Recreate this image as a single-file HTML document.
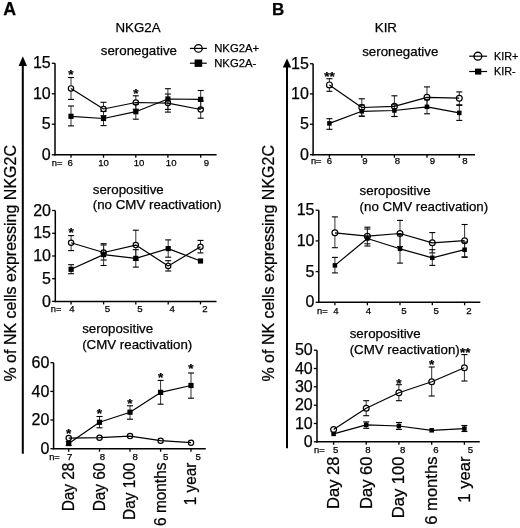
<!DOCTYPE html>
<html><head><meta charset="utf-8"><style>
html,body{margin:0;padding:0;background:#fff;}
svg{display:block;filter:grayscale(100%);}
text{font-family:"Liberation Sans", sans-serif;fill:#000;stroke:#000;stroke-width:0.25px;}
</style></head><body>
<svg width="520" height="528" viewBox="0 0 520 528">
<rect width="520" height="528" fill="#fff"/>
<line x1="55.00" y1="63.30" x2="55.00" y2="155.55" stroke="#000" stroke-width="1.5"/>
<line x1="54.25" y1="154.80" x2="216.60" y2="154.80" stroke="#000" stroke-width="1.5"/>
<line x1="51.80" y1="63.30" x2="55.00" y2="63.30" stroke="#000" stroke-width="1.3"/>
<text x="50.70" y="68.40" font-size="16" text-anchor="end">15</text>
<line x1="51.80" y1="93.80" x2="55.00" y2="93.80" stroke="#000" stroke-width="1.3"/>
<text x="50.70" y="98.90" font-size="16" text-anchor="end">10</text>
<line x1="51.80" y1="124.20" x2="55.00" y2="124.20" stroke="#000" stroke-width="1.3"/>
<text x="50.70" y="129.30" font-size="16" text-anchor="end">5</text>
<line x1="51.80" y1="154.80" x2="55.00" y2="154.80" stroke="#000" stroke-width="1.3"/>
<text x="50.70" y="159.90" font-size="16" text-anchor="end">0</text>
<line x1="71.00" y1="154.80" x2="71.00" y2="157.80" stroke="#000" stroke-width="1.3"/>
<line x1="103.50" y1="154.80" x2="103.50" y2="157.80" stroke="#000" stroke-width="1.3"/>
<line x1="135.80" y1="154.80" x2="135.80" y2="157.80" stroke="#000" stroke-width="1.3"/>
<line x1="167.90" y1="154.80" x2="167.90" y2="157.80" stroke="#000" stroke-width="1.3"/>
<line x1="200.70" y1="154.80" x2="200.70" y2="157.80" stroke="#000" stroke-width="1.3"/>
<line x1="71.00" y1="77.50" x2="71.00" y2="85.75" stroke="#333" stroke-width="1.0"/>
<line x1="71.00" y1="91.05" x2="71.00" y2="99.40" stroke="#333" stroke-width="1.0"/>
<line x1="68.00" y1="77.50" x2="74.00" y2="77.50" stroke="#000" stroke-width="1.1"/>
<line x1="68.00" y1="99.40" x2="74.00" y2="99.40" stroke="#000" stroke-width="1.1"/>
<line x1="71.00" y1="106.00" x2="71.00" y2="125.90" stroke="#333" stroke-width="1.0"/>
<line x1="68.00" y1="106.00" x2="74.00" y2="106.00" stroke="#000" stroke-width="1.1"/>
<line x1="68.00" y1="125.90" x2="74.00" y2="125.90" stroke="#000" stroke-width="1.1"/>
<line x1="103.50" y1="102.30" x2="103.50" y2="106.35" stroke="#333" stroke-width="1.0"/>
<line x1="103.50" y1="111.65" x2="103.50" y2="115.70" stroke="#333" stroke-width="1.0"/>
<line x1="100.50" y1="102.30" x2="106.50" y2="102.30" stroke="#000" stroke-width="1.1"/>
<line x1="100.50" y1="115.70" x2="106.50" y2="115.70" stroke="#000" stroke-width="1.1"/>
<line x1="103.50" y1="111.50" x2="103.50" y2="125.60" stroke="#333" stroke-width="1.0"/>
<line x1="100.50" y1="111.50" x2="106.50" y2="111.50" stroke="#000" stroke-width="1.1"/>
<line x1="100.50" y1="125.60" x2="106.50" y2="125.60" stroke="#000" stroke-width="1.1"/>
<line x1="135.80" y1="95.80" x2="135.80" y2="99.85" stroke="#333" stroke-width="1.0"/>
<line x1="135.80" y1="105.15" x2="135.80" y2="109.20" stroke="#333" stroke-width="1.0"/>
<line x1="132.80" y1="95.80" x2="138.80" y2="95.80" stroke="#000" stroke-width="1.1"/>
<line x1="132.80" y1="109.20" x2="138.80" y2="109.20" stroke="#000" stroke-width="1.1"/>
<line x1="135.80" y1="104.30" x2="135.80" y2="119.20" stroke="#333" stroke-width="1.0"/>
<line x1="132.80" y1="104.30" x2="138.80" y2="104.30" stroke="#000" stroke-width="1.1"/>
<line x1="132.80" y1="119.20" x2="138.80" y2="119.20" stroke="#000" stroke-width="1.1"/>
<line x1="167.90" y1="94.00" x2="167.90" y2="100.45" stroke="#333" stroke-width="1.0"/>
<line x1="167.90" y1="105.75" x2="167.90" y2="112.10" stroke="#333" stroke-width="1.0"/>
<line x1="164.90" y1="94.00" x2="170.90" y2="94.00" stroke="#000" stroke-width="1.1"/>
<line x1="164.90" y1="112.10" x2="170.90" y2="112.10" stroke="#000" stroke-width="1.1"/>
<line x1="167.90" y1="88.70" x2="167.90" y2="109.40" stroke="#333" stroke-width="1.0"/>
<line x1="164.90" y1="88.70" x2="170.90" y2="88.70" stroke="#000" stroke-width="1.1"/>
<line x1="164.90" y1="109.40" x2="170.90" y2="109.40" stroke="#000" stroke-width="1.1"/>
<line x1="200.70" y1="100.80" x2="200.70" y2="106.85" stroke="#333" stroke-width="1.0"/>
<line x1="200.70" y1="112.15" x2="200.70" y2="118.20" stroke="#333" stroke-width="1.0"/>
<line x1="197.70" y1="100.80" x2="203.70" y2="100.80" stroke="#000" stroke-width="1.1"/>
<line x1="197.70" y1="118.20" x2="203.70" y2="118.20" stroke="#000" stroke-width="1.1"/>
<line x1="200.70" y1="90.50" x2="200.70" y2="108.30" stroke="#333" stroke-width="1.0"/>
<line x1="197.70" y1="90.50" x2="203.70" y2="90.50" stroke="#000" stroke-width="1.1"/>
<line x1="197.70" y1="108.30" x2="203.70" y2="108.30" stroke="#000" stroke-width="1.1"/>
<polyline points="71.0,88.4 103.5,109.0 135.8,102.5 167.9,103.1 200.7,109.5" fill="none" stroke="#000" stroke-width="1.2" stroke-linejoin="round"/>
<polyline points="71.0,116.3 103.5,118.5 135.8,111.7 167.9,99.0 200.7,99.4" fill="none" stroke="#000" stroke-width="1.2" stroke-linejoin="round"/>
<rect x="68.40" y="113.70" width="5.2" height="5.2" fill="#000"/>
<rect x="100.90" y="115.90" width="5.2" height="5.2" fill="#000"/>
<rect x="133.20" y="109.10" width="5.2" height="5.2" fill="#000"/>
<rect x="165.30" y="96.40" width="5.2" height="5.2" fill="#000"/>
<rect x="198.10" y="96.80" width="5.2" height="5.2" fill="#000"/>
<circle cx="71.0" cy="88.4" r="2.65" fill="none" stroke="#000" stroke-width="1.2"/>
<circle cx="103.5" cy="109.0" r="2.65" fill="none" stroke="#000" stroke-width="1.2"/>
<circle cx="135.8" cy="102.5" r="2.65" fill="none" stroke="#000" stroke-width="1.2"/>
<circle cx="167.9" cy="103.1" r="2.65" fill="none" stroke="#000" stroke-width="1.2"/>
<circle cx="200.7" cy="109.5" r="2.65" fill="none" stroke="#000" stroke-width="1.2"/>
<text x="71.00" y="79.30" font-size="13.5" text-anchor="middle" font-weight="bold">*</text>
<text x="135.80" y="98.40" font-size="13.5" text-anchor="middle" font-weight="bold">*</text>
<text x="51.80" y="165.70" font-size="9.3" text-anchor="start">n=</text>
<text x="70.20" y="165.70" font-size="9.6" text-anchor="middle">6</text>
<text x="103.60" y="165.70" font-size="9.6" text-anchor="middle">10</text>
<text x="139.00" y="165.70" font-size="9.6" text-anchor="middle">10</text>
<text x="171.20" y="165.70" font-size="9.6" text-anchor="middle">10</text>
<text x="206.50" y="165.70" font-size="9.6" text-anchor="middle">9</text>
<line x1="55.30" y1="210.50" x2="55.30" y2="302.15" stroke="#000" stroke-width="1.5"/>
<line x1="54.55" y1="301.40" x2="216.50" y2="301.40" stroke="#000" stroke-width="1.5"/>
<line x1="52.10" y1="210.50" x2="55.30" y2="210.50" stroke="#000" stroke-width="1.3"/>
<text x="51.00" y="215.60" font-size="16" text-anchor="end">20</text>
<line x1="52.10" y1="233.30" x2="55.30" y2="233.30" stroke="#000" stroke-width="1.3"/>
<text x="51.00" y="238.40" font-size="16" text-anchor="end">15</text>
<line x1="52.10" y1="256.00" x2="55.30" y2="256.00" stroke="#000" stroke-width="1.3"/>
<text x="51.00" y="261.10" font-size="16" text-anchor="end">10</text>
<line x1="52.10" y1="278.70" x2="55.30" y2="278.70" stroke="#000" stroke-width="1.3"/>
<text x="51.00" y="283.80" font-size="16" text-anchor="end">5</text>
<line x1="52.10" y1="301.40" x2="55.30" y2="301.40" stroke="#000" stroke-width="1.3"/>
<text x="51.00" y="306.50" font-size="16" text-anchor="end">0</text>
<line x1="71.10" y1="301.40" x2="71.10" y2="304.40" stroke="#000" stroke-width="1.3"/>
<line x1="103.60" y1="301.40" x2="103.60" y2="304.40" stroke="#000" stroke-width="1.3"/>
<line x1="135.80" y1="301.40" x2="135.80" y2="304.40" stroke="#000" stroke-width="1.3"/>
<line x1="168.20" y1="301.40" x2="168.20" y2="304.40" stroke="#000" stroke-width="1.3"/>
<line x1="200.50" y1="301.40" x2="200.50" y2="304.40" stroke="#000" stroke-width="1.3"/>
<line x1="71.10" y1="235.60" x2="71.10" y2="240.15" stroke="#333" stroke-width="1.0"/>
<line x1="71.10" y1="245.45" x2="71.10" y2="250.60" stroke="#333" stroke-width="1.0"/>
<line x1="68.10" y1="235.60" x2="74.10" y2="235.60" stroke="#000" stroke-width="1.1"/>
<line x1="68.10" y1="250.60" x2="74.10" y2="250.60" stroke="#000" stroke-width="1.1"/>
<line x1="71.10" y1="264.70" x2="71.10" y2="273.70" stroke="#333" stroke-width="1.0"/>
<line x1="68.10" y1="264.70" x2="74.10" y2="264.70" stroke="#000" stroke-width="1.1"/>
<line x1="68.10" y1="273.70" x2="74.10" y2="273.70" stroke="#000" stroke-width="1.1"/>
<line x1="103.60" y1="245.00" x2="103.60" y2="249.85" stroke="#333" stroke-width="1.0"/>
<line x1="103.60" y1="255.15" x2="103.60" y2="260.00" stroke="#333" stroke-width="1.0"/>
<line x1="100.60" y1="245.00" x2="106.60" y2="245.00" stroke="#000" stroke-width="1.1"/>
<line x1="100.60" y1="260.00" x2="106.60" y2="260.00" stroke="#000" stroke-width="1.1"/>
<line x1="103.60" y1="243.70" x2="103.60" y2="265.50" stroke="#333" stroke-width="1.0"/>
<line x1="100.60" y1="243.70" x2="106.60" y2="243.70" stroke="#000" stroke-width="1.1"/>
<line x1="100.60" y1="265.50" x2="106.60" y2="265.50" stroke="#000" stroke-width="1.1"/>
<line x1="135.80" y1="230.20" x2="135.80" y2="242.45" stroke="#333" stroke-width="1.0"/>
<line x1="135.80" y1="247.75" x2="135.80" y2="260.00" stroke="#333" stroke-width="1.0"/>
<line x1="132.80" y1="230.20" x2="138.80" y2="230.20" stroke="#000" stroke-width="1.1"/>
<line x1="132.80" y1="260.00" x2="138.80" y2="260.00" stroke="#000" stroke-width="1.1"/>
<line x1="135.80" y1="249.70" x2="135.80" y2="267.10" stroke="#333" stroke-width="1.0"/>
<line x1="132.80" y1="249.70" x2="138.80" y2="249.70" stroke="#000" stroke-width="1.1"/>
<line x1="132.80" y1="267.10" x2="138.80" y2="267.10" stroke="#000" stroke-width="1.1"/>
<line x1="168.20" y1="260.70" x2="168.20" y2="263.25" stroke="#333" stroke-width="1.0"/>
<line x1="168.20" y1="268.55" x2="168.20" y2="271.00" stroke="#333" stroke-width="1.0"/>
<line x1="165.20" y1="260.70" x2="171.20" y2="260.70" stroke="#000" stroke-width="1.1"/>
<line x1="165.20" y1="271.00" x2="171.20" y2="271.00" stroke="#000" stroke-width="1.1"/>
<line x1="168.20" y1="239.90" x2="168.20" y2="257.20" stroke="#333" stroke-width="1.0"/>
<line x1="165.20" y1="239.90" x2="171.20" y2="239.90" stroke="#000" stroke-width="1.1"/>
<line x1="165.20" y1="257.20" x2="171.20" y2="257.20" stroke="#000" stroke-width="1.1"/>
<line x1="200.50" y1="240.40" x2="200.50" y2="244.15" stroke="#333" stroke-width="1.0"/>
<line x1="200.50" y1="249.45" x2="200.50" y2="252.90" stroke="#333" stroke-width="1.0"/>
<line x1="197.50" y1="240.40" x2="203.50" y2="240.40" stroke="#000" stroke-width="1.1"/>
<line x1="197.50" y1="252.90" x2="203.50" y2="252.90" stroke="#000" stroke-width="1.1"/>
<polyline points="71.1,242.8 103.6,252.5 135.8,245.1 168.2,265.9 200.5,246.8" fill="none" stroke="#000" stroke-width="1.2" stroke-linejoin="round"/>
<polyline points="71.1,269.3 103.6,254.6 135.8,258.4 168.2,248.6 200.5,261.0" fill="none" stroke="#000" stroke-width="1.2" stroke-linejoin="round"/>
<rect x="68.50" y="266.70" width="5.2" height="5.2" fill="#000"/>
<rect x="101.00" y="252.00" width="5.2" height="5.2" fill="#000"/>
<rect x="133.20" y="255.80" width="5.2" height="5.2" fill="#000"/>
<rect x="165.60" y="246.00" width="5.2" height="5.2" fill="#000"/>
<rect x="197.90" y="258.40" width="5.2" height="5.2" fill="#000"/>
<circle cx="71.1" cy="242.8" r="2.65" fill="none" stroke="#000" stroke-width="1.2"/>
<circle cx="103.6" cy="252.5" r="2.65" fill="none" stroke="#000" stroke-width="1.2"/>
<circle cx="135.8" cy="245.1" r="2.65" fill="none" stroke="#000" stroke-width="1.2"/>
<circle cx="168.2" cy="265.9" r="2.65" fill="none" stroke="#000" stroke-width="1.2"/>
<circle cx="200.5" cy="246.8" r="2.65" fill="none" stroke="#000" stroke-width="1.2"/>
<text x="71.10" y="236.70" font-size="13.5" text-anchor="middle" font-weight="bold">*</text>
<text x="50.80" y="311.90" font-size="9.3" text-anchor="start">n=</text>
<text x="71.90" y="311.90" font-size="9.6" text-anchor="middle">4</text>
<text x="107.50" y="311.90" font-size="9.6" text-anchor="middle">5</text>
<text x="139.90" y="311.90" font-size="9.6" text-anchor="middle">5</text>
<text x="172.10" y="311.90" font-size="9.6" text-anchor="middle">4</text>
<text x="205.00" y="311.90" font-size="9.6" text-anchor="middle">2</text>
<line x1="53.60" y1="362.70" x2="53.60" y2="449.45" stroke="#000" stroke-width="1.5"/>
<line x1="52.85" y1="448.70" x2="205.80" y2="448.70" stroke="#000" stroke-width="1.5"/>
<line x1="50.40" y1="362.70" x2="53.60" y2="362.70" stroke="#000" stroke-width="1.3"/>
<text x="49.30" y="367.80" font-size="16" text-anchor="end">60</text>
<line x1="50.40" y1="391.40" x2="53.60" y2="391.40" stroke="#000" stroke-width="1.3"/>
<text x="49.30" y="396.50" font-size="16" text-anchor="end">40</text>
<line x1="50.40" y1="420.00" x2="53.60" y2="420.00" stroke="#000" stroke-width="1.3"/>
<text x="49.30" y="425.10" font-size="16" text-anchor="end">20</text>
<line x1="50.40" y1="448.70" x2="53.60" y2="448.70" stroke="#000" stroke-width="1.3"/>
<text x="49.30" y="453.80" font-size="16" text-anchor="end">0</text>
<line x1="68.70" y1="448.70" x2="68.70" y2="451.70" stroke="#000" stroke-width="1.3"/>
<line x1="99.50" y1="448.70" x2="99.50" y2="451.70" stroke="#000" stroke-width="1.3"/>
<line x1="130.00" y1="448.70" x2="130.00" y2="451.70" stroke="#000" stroke-width="1.3"/>
<line x1="160.60" y1="448.70" x2="160.60" y2="451.70" stroke="#000" stroke-width="1.3"/>
<line x1="191.00" y1="448.70" x2="191.00" y2="451.70" stroke="#000" stroke-width="1.3"/>
<line x1="68.70" y1="441.50" x2="68.70" y2="445.50" stroke="#333" stroke-width="1.0"/>
<line x1="65.70" y1="441.50" x2="71.70" y2="441.50" stroke="#000" stroke-width="1.1"/>
<line x1="65.70" y1="445.50" x2="71.70" y2="445.50" stroke="#000" stroke-width="1.1"/>
<line x1="99.50" y1="416.50" x2="99.50" y2="427.80" stroke="#333" stroke-width="1.0"/>
<line x1="96.50" y1="416.50" x2="102.50" y2="416.50" stroke="#000" stroke-width="1.1"/>
<line x1="96.50" y1="427.80" x2="102.50" y2="427.80" stroke="#000" stroke-width="1.1"/>
<line x1="130.00" y1="405.80" x2="130.00" y2="419.20" stroke="#333" stroke-width="1.0"/>
<line x1="127.00" y1="405.80" x2="133.00" y2="405.80" stroke="#000" stroke-width="1.1"/>
<line x1="127.00" y1="419.20" x2="133.00" y2="419.20" stroke="#000" stroke-width="1.1"/>
<line x1="160.60" y1="380.40" x2="160.60" y2="404.20" stroke="#333" stroke-width="1.0"/>
<line x1="157.60" y1="380.40" x2="163.60" y2="380.40" stroke="#000" stroke-width="1.1"/>
<line x1="157.60" y1="404.20" x2="163.60" y2="404.20" stroke="#000" stroke-width="1.1"/>
<line x1="191.00" y1="373.00" x2="191.00" y2="398.20" stroke="#333" stroke-width="1.0"/>
<line x1="188.00" y1="373.00" x2="194.00" y2="373.00" stroke="#000" stroke-width="1.1"/>
<line x1="188.00" y1="398.20" x2="194.00" y2="398.20" stroke="#000" stroke-width="1.1"/>
<polyline points="68.7,438.1 99.5,437.7 130.0,436.1 160.6,440.7 191.0,442.7" fill="none" stroke="#000" stroke-width="1.2" stroke-linejoin="round"/>
<polyline points="68.7,443.5 99.5,422.3 130.0,412.2 160.6,392.4 191.0,385.5" fill="none" stroke="#000" stroke-width="1.2" stroke-linejoin="round"/>
<rect x="66.10" y="440.90" width="5.2" height="5.2" fill="#000"/>
<rect x="96.90" y="419.70" width="5.2" height="5.2" fill="#000"/>
<rect x="127.40" y="409.60" width="5.2" height="5.2" fill="#000"/>
<rect x="158.00" y="389.80" width="5.2" height="5.2" fill="#000"/>
<rect x="188.40" y="382.90" width="5.2" height="5.2" fill="#000"/>
<circle cx="68.7" cy="438.1" r="2.65" fill="none" stroke="#000" stroke-width="1.2"/>
<circle cx="99.5" cy="437.7" r="2.65" fill="none" stroke="#000" stroke-width="1.2"/>
<circle cx="130.0" cy="436.1" r="2.65" fill="none" stroke="#000" stroke-width="1.2"/>
<circle cx="160.6" cy="440.7" r="2.65" fill="none" stroke="#000" stroke-width="1.2"/>
<circle cx="191.0" cy="442.7" r="2.65" fill="none" stroke="#000" stroke-width="1.2"/>
<text x="68.70" y="437.50" font-size="13.5" text-anchor="middle" font-weight="bold">*</text>
<text x="99.50" y="418.10" font-size="13.5" text-anchor="middle" font-weight="bold">*</text>
<text x="130.00" y="407.70" font-size="13.5" text-anchor="middle" font-weight="bold">*</text>
<text x="160.60" y="382.20" font-size="13.5" text-anchor="middle" font-weight="bold">*</text>
<text x="191.00" y="373.00" font-size="13.5" text-anchor="middle" font-weight="bold">*</text>
<text x="49.20" y="459.80" font-size="9.3" text-anchor="start">n=</text>
<text x="69.60" y="459.80" font-size="9.6" text-anchor="middle">7</text>
<text x="102.30" y="459.80" font-size="9.6" text-anchor="middle">8</text>
<text x="135.10" y="459.80" font-size="9.6" text-anchor="middle">8</text>
<text x="165.60" y="459.80" font-size="9.6" text-anchor="middle">5</text>
<text x="198.20" y="459.80" font-size="9.6" text-anchor="middle">5</text>
<line x1="313.10" y1="63.75" x2="313.10" y2="155.45" stroke="#000" stroke-width="1.5"/>
<line x1="312.35" y1="154.70" x2="475.00" y2="154.70" stroke="#000" stroke-width="1.5"/>
<line x1="309.90" y1="63.75" x2="313.10" y2="63.75" stroke="#000" stroke-width="1.3"/>
<text x="308.80" y="68.85" font-size="16" text-anchor="end">15</text>
<line x1="309.90" y1="93.90" x2="313.10" y2="93.90" stroke="#000" stroke-width="1.3"/>
<text x="308.80" y="99.00" font-size="16" text-anchor="end">10</text>
<line x1="309.90" y1="124.20" x2="313.10" y2="124.20" stroke="#000" stroke-width="1.3"/>
<text x="308.80" y="129.30" font-size="16" text-anchor="end">5</text>
<line x1="309.90" y1="154.70" x2="313.10" y2="154.70" stroke="#000" stroke-width="1.3"/>
<text x="308.80" y="159.80" font-size="16" text-anchor="end">0</text>
<line x1="329.40" y1="154.70" x2="329.40" y2="157.70" stroke="#000" stroke-width="1.3"/>
<line x1="361.80" y1="154.70" x2="361.80" y2="157.70" stroke="#000" stroke-width="1.3"/>
<line x1="394.40" y1="154.70" x2="394.40" y2="157.70" stroke="#000" stroke-width="1.3"/>
<line x1="427.00" y1="154.70" x2="427.00" y2="157.70" stroke="#000" stroke-width="1.3"/>
<line x1="459.30" y1="154.70" x2="459.30" y2="157.70" stroke="#000" stroke-width="1.3"/>
<line x1="329.40" y1="78.70" x2="329.40" y2="82.00" stroke="#333" stroke-width="1.0"/>
<line x1="329.40" y1="87.80" x2="329.40" y2="91.30" stroke="#333" stroke-width="1.0"/>
<line x1="326.40" y1="78.70" x2="332.40" y2="78.70" stroke="#000" stroke-width="1.1"/>
<line x1="326.40" y1="91.30" x2="332.40" y2="91.30" stroke="#000" stroke-width="1.1"/>
<line x1="329.40" y1="118.70" x2="329.40" y2="129.30" stroke="#333" stroke-width="1.0"/>
<line x1="326.40" y1="118.70" x2="332.40" y2="118.70" stroke="#000" stroke-width="1.1"/>
<line x1="326.40" y1="129.30" x2="332.40" y2="129.30" stroke="#000" stroke-width="1.1"/>
<line x1="361.80" y1="98.80" x2="361.80" y2="104.60" stroke="#333" stroke-width="1.0"/>
<line x1="361.80" y1="110.40" x2="361.80" y2="116.20" stroke="#333" stroke-width="1.0"/>
<line x1="358.80" y1="98.80" x2="364.80" y2="98.80" stroke="#000" stroke-width="1.1"/>
<line x1="358.80" y1="116.20" x2="364.80" y2="116.20" stroke="#000" stroke-width="1.1"/>
<line x1="361.80" y1="105.00" x2="361.80" y2="116.20" stroke="#333" stroke-width="1.0"/>
<line x1="358.80" y1="105.00" x2="364.80" y2="105.00" stroke="#000" stroke-width="1.1"/>
<line x1="358.80" y1="116.20" x2="364.80" y2="116.20" stroke="#000" stroke-width="1.1"/>
<line x1="394.40" y1="95.80" x2="394.40" y2="103.40" stroke="#333" stroke-width="1.0"/>
<line x1="394.40" y1="109.20" x2="394.40" y2="116.50" stroke="#333" stroke-width="1.0"/>
<line x1="391.40" y1="95.80" x2="397.40" y2="95.80" stroke="#000" stroke-width="1.1"/>
<line x1="391.40" y1="116.50" x2="397.40" y2="116.50" stroke="#000" stroke-width="1.1"/>
<line x1="394.40" y1="104.80" x2="394.40" y2="116.50" stroke="#333" stroke-width="1.0"/>
<line x1="391.40" y1="104.80" x2="397.40" y2="104.80" stroke="#000" stroke-width="1.1"/>
<line x1="391.40" y1="116.50" x2="397.40" y2="116.50" stroke="#000" stroke-width="1.1"/>
<line x1="427.00" y1="86.90" x2="427.00" y2="94.40" stroke="#333" stroke-width="1.0"/>
<line x1="427.00" y1="100.20" x2="427.00" y2="107.70" stroke="#333" stroke-width="1.0"/>
<line x1="424.00" y1="86.90" x2="430.00" y2="86.90" stroke="#000" stroke-width="1.1"/>
<line x1="424.00" y1="107.70" x2="430.00" y2="107.70" stroke="#000" stroke-width="1.1"/>
<line x1="427.00" y1="99.80" x2="427.00" y2="113.80" stroke="#333" stroke-width="1.0"/>
<line x1="424.00" y1="99.80" x2="430.00" y2="99.80" stroke="#000" stroke-width="1.1"/>
<line x1="424.00" y1="113.80" x2="430.00" y2="113.80" stroke="#000" stroke-width="1.1"/>
<line x1="459.30" y1="91.90" x2="459.30" y2="95.30" stroke="#333" stroke-width="1.0"/>
<line x1="459.30" y1="101.10" x2="459.30" y2="104.80" stroke="#333" stroke-width="1.0"/>
<line x1="456.30" y1="91.90" x2="462.30" y2="91.90" stroke="#000" stroke-width="1.1"/>
<line x1="456.30" y1="104.80" x2="462.30" y2="104.80" stroke="#000" stroke-width="1.1"/>
<line x1="459.30" y1="105.40" x2="459.30" y2="120.40" stroke="#333" stroke-width="1.0"/>
<line x1="456.30" y1="105.40" x2="462.30" y2="105.40" stroke="#000" stroke-width="1.1"/>
<line x1="456.30" y1="120.40" x2="462.30" y2="120.40" stroke="#000" stroke-width="1.1"/>
<polyline points="329.4,84.9 361.8,107.5 394.4,106.3 427.0,97.3 459.3,98.2" fill="none" stroke="#000" stroke-width="1.2" stroke-linejoin="round"/>
<polyline points="329.4,123.4 361.8,111.3 394.4,110.5 427.0,106.8 459.3,112.9" fill="none" stroke="#000" stroke-width="1.2" stroke-linejoin="round"/>
<rect x="327.15" y="121.15" width="4.5" height="4.5" fill="#000"/>
<rect x="359.55" y="109.05" width="4.5" height="4.5" fill="#000"/>
<rect x="392.15" y="108.25" width="4.5" height="4.5" fill="#000"/>
<rect x="424.75" y="104.55" width="4.5" height="4.5" fill="#000"/>
<rect x="457.05" y="110.65" width="4.5" height="4.5" fill="#000"/>
<circle cx="329.4" cy="84.9" r="2.9" fill="none" stroke="#000" stroke-width="1.2"/>
<circle cx="361.8" cy="107.5" r="2.9" fill="none" stroke="#000" stroke-width="1.2"/>
<circle cx="394.4" cy="106.3" r="2.9" fill="none" stroke="#000" stroke-width="1.2"/>
<circle cx="427.0" cy="97.3" r="2.9" fill="none" stroke="#000" stroke-width="1.2"/>
<circle cx="459.3" cy="98.2" r="2.9" fill="none" stroke="#000" stroke-width="1.2"/>
<text x="329.40" y="81.40" font-size="13.5" text-anchor="middle" font-weight="bold">**</text>
<text x="310.90" y="164.30" font-size="9.3" text-anchor="start">n=</text>
<text x="329.40" y="164.30" font-size="9.6" text-anchor="middle">6</text>
<text x="364.90" y="164.30" font-size="9.6" text-anchor="middle">9</text>
<text x="397.50" y="164.30" font-size="9.6" text-anchor="middle">8</text>
<text x="432.30" y="164.30" font-size="9.6" text-anchor="middle">9</text>
<text x="464.80" y="164.30" font-size="9.6" text-anchor="middle">8</text>
<line x1="318.80" y1="210.20" x2="318.80" y2="303.05" stroke="#000" stroke-width="1.5"/>
<line x1="318.05" y1="302.30" x2="480.30" y2="302.30" stroke="#000" stroke-width="1.5"/>
<line x1="315.60" y1="210.20" x2="318.80" y2="210.20" stroke="#000" stroke-width="1.3"/>
<text x="314.50" y="215.30" font-size="16" text-anchor="end">15</text>
<line x1="315.60" y1="240.90" x2="318.80" y2="240.90" stroke="#000" stroke-width="1.3"/>
<text x="314.50" y="246.00" font-size="16" text-anchor="end">10</text>
<line x1="315.60" y1="271.60" x2="318.80" y2="271.60" stroke="#000" stroke-width="1.3"/>
<text x="314.50" y="276.70" font-size="16" text-anchor="end">5</text>
<line x1="315.60" y1="302.30" x2="318.80" y2="302.30" stroke="#000" stroke-width="1.3"/>
<text x="314.50" y="307.40" font-size="16" text-anchor="end">0</text>
<line x1="334.90" y1="302.30" x2="334.90" y2="305.30" stroke="#000" stroke-width="1.3"/>
<line x1="367.40" y1="302.30" x2="367.40" y2="305.30" stroke="#000" stroke-width="1.3"/>
<line x1="400.00" y1="302.30" x2="400.00" y2="305.30" stroke="#000" stroke-width="1.3"/>
<line x1="432.30" y1="302.30" x2="432.30" y2="305.30" stroke="#000" stroke-width="1.3"/>
<line x1="464.60" y1="302.30" x2="464.60" y2="305.30" stroke="#000" stroke-width="1.3"/>
<line x1="334.90" y1="216.90" x2="334.90" y2="229.90" stroke="#333" stroke-width="1.0"/>
<line x1="334.90" y1="235.70" x2="334.90" y2="247.70" stroke="#333" stroke-width="1.0"/>
<line x1="331.90" y1="216.90" x2="337.90" y2="216.90" stroke="#000" stroke-width="1.1"/>
<line x1="331.90" y1="247.70" x2="337.90" y2="247.70" stroke="#000" stroke-width="1.1"/>
<line x1="334.90" y1="257.40" x2="334.90" y2="272.90" stroke="#333" stroke-width="1.0"/>
<line x1="331.90" y1="257.40" x2="337.90" y2="257.40" stroke="#000" stroke-width="1.1"/>
<line x1="331.90" y1="272.90" x2="337.90" y2="272.90" stroke="#000" stroke-width="1.1"/>
<line x1="367.40" y1="229.00" x2="367.40" y2="233.30" stroke="#333" stroke-width="1.0"/>
<line x1="367.40" y1="239.10" x2="367.40" y2="243.80" stroke="#333" stroke-width="1.0"/>
<line x1="364.40" y1="229.00" x2="370.40" y2="229.00" stroke="#000" stroke-width="1.1"/>
<line x1="364.40" y1="243.80" x2="370.40" y2="243.80" stroke="#000" stroke-width="1.1"/>
<line x1="367.40" y1="227.20" x2="367.40" y2="246.00" stroke="#333" stroke-width="1.0"/>
<line x1="364.40" y1="227.20" x2="370.40" y2="227.20" stroke="#000" stroke-width="1.1"/>
<line x1="364.40" y1="246.00" x2="370.40" y2="246.00" stroke="#000" stroke-width="1.1"/>
<line x1="400.00" y1="220.40" x2="400.00" y2="230.60" stroke="#333" stroke-width="1.0"/>
<line x1="400.00" y1="236.40" x2="400.00" y2="246.60" stroke="#333" stroke-width="1.0"/>
<line x1="397.00" y1="220.40" x2="403.00" y2="220.40" stroke="#000" stroke-width="1.1"/>
<line x1="397.00" y1="246.60" x2="403.00" y2="246.60" stroke="#000" stroke-width="1.1"/>
<line x1="400.00" y1="234.60" x2="400.00" y2="263.10" stroke="#333" stroke-width="1.0"/>
<line x1="397.00" y1="234.60" x2="403.00" y2="234.60" stroke="#000" stroke-width="1.1"/>
<line x1="397.00" y1="263.10" x2="403.00" y2="263.10" stroke="#000" stroke-width="1.1"/>
<line x1="432.30" y1="232.60" x2="432.30" y2="239.90" stroke="#333" stroke-width="1.0"/>
<line x1="432.30" y1="245.70" x2="432.30" y2="252.90" stroke="#333" stroke-width="1.0"/>
<line x1="429.30" y1="232.60" x2="435.30" y2="232.60" stroke="#000" stroke-width="1.1"/>
<line x1="429.30" y1="252.90" x2="435.30" y2="252.90" stroke="#000" stroke-width="1.1"/>
<line x1="432.30" y1="249.70" x2="432.30" y2="265.40" stroke="#333" stroke-width="1.0"/>
<line x1="429.30" y1="249.70" x2="435.30" y2="249.70" stroke="#000" stroke-width="1.1"/>
<line x1="429.30" y1="265.40" x2="435.30" y2="265.40" stroke="#000" stroke-width="1.1"/>
<line x1="464.60" y1="224.50" x2="464.60" y2="237.80" stroke="#333" stroke-width="1.0"/>
<line x1="464.60" y1="243.60" x2="464.60" y2="256.90" stroke="#333" stroke-width="1.0"/>
<line x1="461.60" y1="224.50" x2="467.60" y2="224.50" stroke="#000" stroke-width="1.1"/>
<line x1="461.60" y1="256.90" x2="467.60" y2="256.90" stroke="#000" stroke-width="1.1"/>
<line x1="464.60" y1="242.00" x2="464.60" y2="257.30" stroke="#333" stroke-width="1.0"/>
<line x1="461.60" y1="242.00" x2="467.60" y2="242.00" stroke="#000" stroke-width="1.1"/>
<line x1="461.60" y1="257.30" x2="467.60" y2="257.30" stroke="#000" stroke-width="1.1"/>
<polyline points="334.9,232.8 367.4,236.2 400.0,233.5 432.3,242.8 464.6,240.7" fill="none" stroke="#000" stroke-width="1.2" stroke-linejoin="round"/>
<polyline points="334.9,265.4 367.4,238.5 400.0,248.8 432.3,257.8 464.6,249.7" fill="none" stroke="#000" stroke-width="1.2" stroke-linejoin="round"/>
<rect x="332.65" y="263.15" width="4.5" height="4.5" fill="#000"/>
<rect x="365.15" y="236.25" width="4.5" height="4.5" fill="#000"/>
<rect x="397.75" y="246.55" width="4.5" height="4.5" fill="#000"/>
<rect x="430.05" y="255.55" width="4.5" height="4.5" fill="#000"/>
<rect x="462.35" y="247.45" width="4.5" height="4.5" fill="#000"/>
<circle cx="334.9" cy="232.8" r="2.9" fill="none" stroke="#000" stroke-width="1.2"/>
<circle cx="367.4" cy="236.2" r="2.9" fill="none" stroke="#000" stroke-width="1.2"/>
<circle cx="400.0" cy="233.5" r="2.9" fill="none" stroke="#000" stroke-width="1.2"/>
<circle cx="432.3" cy="242.8" r="2.9" fill="none" stroke="#000" stroke-width="1.2"/>
<circle cx="464.6" cy="240.7" r="2.9" fill="none" stroke="#000" stroke-width="1.2"/>
<text x="317.10" y="313.80" font-size="9.3" text-anchor="start">n=</text>
<text x="335.90" y="313.80" font-size="9.6" text-anchor="middle">4</text>
<text x="368.40" y="313.80" font-size="9.6" text-anchor="middle">4</text>
<text x="403.90" y="313.80" font-size="9.6" text-anchor="middle">5</text>
<text x="436.20" y="313.80" font-size="9.6" text-anchor="middle">5</text>
<text x="468.80" y="313.80" font-size="9.6" text-anchor="middle">2</text>
<line x1="317.00" y1="350.20" x2="317.00" y2="442.55" stroke="#000" stroke-width="1.5"/>
<line x1="316.25" y1="441.80" x2="479.80" y2="441.80" stroke="#000" stroke-width="1.5"/>
<line x1="313.80" y1="350.20" x2="317.00" y2="350.20" stroke="#000" stroke-width="1.3"/>
<text x="312.70" y="355.30" font-size="16" text-anchor="end">50</text>
<line x1="313.80" y1="368.50" x2="317.00" y2="368.50" stroke="#000" stroke-width="1.3"/>
<text x="312.70" y="373.60" font-size="16" text-anchor="end">40</text>
<line x1="313.80" y1="386.80" x2="317.00" y2="386.80" stroke="#000" stroke-width="1.3"/>
<text x="312.70" y="391.90" font-size="16" text-anchor="end">30</text>
<line x1="313.80" y1="405.20" x2="317.00" y2="405.20" stroke="#000" stroke-width="1.3"/>
<text x="312.70" y="410.30" font-size="16" text-anchor="end">20</text>
<line x1="313.80" y1="423.50" x2="317.00" y2="423.50" stroke="#000" stroke-width="1.3"/>
<text x="312.70" y="428.60" font-size="16" text-anchor="end">10</text>
<line x1="313.80" y1="441.80" x2="317.00" y2="441.80" stroke="#000" stroke-width="1.3"/>
<text x="312.70" y="446.90" font-size="16" text-anchor="end">0</text>
<line x1="333.60" y1="441.80" x2="333.60" y2="444.80" stroke="#000" stroke-width="1.3"/>
<line x1="366.20" y1="441.80" x2="366.20" y2="444.80" stroke="#000" stroke-width="1.3"/>
<line x1="398.90" y1="441.80" x2="398.90" y2="444.80" stroke="#000" stroke-width="1.3"/>
<line x1="431.70" y1="441.80" x2="431.70" y2="444.80" stroke="#000" stroke-width="1.3"/>
<line x1="464.40" y1="441.80" x2="464.40" y2="444.80" stroke="#000" stroke-width="1.3"/>
<line x1="366.20" y1="400.70" x2="366.20" y2="405.30" stroke="#333" stroke-width="1.0"/>
<line x1="366.20" y1="411.10" x2="366.20" y2="415.70" stroke="#333" stroke-width="1.0"/>
<line x1="363.20" y1="400.70" x2="369.20" y2="400.70" stroke="#000" stroke-width="1.1"/>
<line x1="363.20" y1="415.70" x2="369.20" y2="415.70" stroke="#000" stroke-width="1.1"/>
<line x1="366.20" y1="421.90" x2="366.20" y2="428.30" stroke="#333" stroke-width="1.0"/>
<line x1="363.20" y1="421.90" x2="369.20" y2="421.90" stroke="#000" stroke-width="1.1"/>
<line x1="363.20" y1="428.30" x2="369.20" y2="428.30" stroke="#000" stroke-width="1.1"/>
<line x1="398.90" y1="384.70" x2="398.90" y2="389.90" stroke="#333" stroke-width="1.0"/>
<line x1="398.90" y1="395.70" x2="398.90" y2="400.70" stroke="#333" stroke-width="1.0"/>
<line x1="395.90" y1="384.70" x2="401.90" y2="384.70" stroke="#000" stroke-width="1.1"/>
<line x1="395.90" y1="400.70" x2="401.90" y2="400.70" stroke="#000" stroke-width="1.1"/>
<line x1="398.90" y1="422.50" x2="398.90" y2="429.40" stroke="#333" stroke-width="1.0"/>
<line x1="395.90" y1="422.50" x2="401.90" y2="422.50" stroke="#000" stroke-width="1.1"/>
<line x1="395.90" y1="429.40" x2="401.90" y2="429.40" stroke="#000" stroke-width="1.1"/>
<line x1="431.70" y1="367.00" x2="431.70" y2="378.80" stroke="#333" stroke-width="1.0"/>
<line x1="431.70" y1="384.60" x2="431.70" y2="396.00" stroke="#333" stroke-width="1.0"/>
<line x1="428.70" y1="367.00" x2="434.70" y2="367.00" stroke="#000" stroke-width="1.1"/>
<line x1="428.70" y1="396.00" x2="434.70" y2="396.00" stroke="#000" stroke-width="1.1"/>
<line x1="464.40" y1="354.60" x2="464.40" y2="364.80" stroke="#333" stroke-width="1.0"/>
<line x1="464.40" y1="370.60" x2="464.40" y2="381.00" stroke="#333" stroke-width="1.0"/>
<line x1="461.40" y1="354.60" x2="467.40" y2="354.60" stroke="#000" stroke-width="1.1"/>
<line x1="461.40" y1="381.00" x2="467.40" y2="381.00" stroke="#000" stroke-width="1.1"/>
<line x1="464.40" y1="425.50" x2="464.40" y2="431.50" stroke="#333" stroke-width="1.0"/>
<line x1="461.40" y1="425.50" x2="467.40" y2="425.50" stroke="#000" stroke-width="1.1"/>
<line x1="461.40" y1="431.50" x2="467.40" y2="431.50" stroke="#000" stroke-width="1.1"/>
<polyline points="333.6,429.6 366.2,408.2 398.9,392.8 431.7,381.7 464.4,367.7" fill="none" stroke="#000" stroke-width="1.2" stroke-linejoin="round"/>
<polyline points="333.6,433.9 366.2,424.9 398.9,426.0 431.7,430.3 464.4,428.6" fill="none" stroke="#000" stroke-width="1.2" stroke-linejoin="round"/>
<rect x="331.35" y="431.65" width="4.5" height="4.5" fill="#000"/>
<rect x="363.95" y="422.65" width="4.5" height="4.5" fill="#000"/>
<rect x="396.65" y="423.75" width="4.5" height="4.5" fill="#000"/>
<rect x="429.45" y="428.05" width="4.5" height="4.5" fill="#000"/>
<rect x="462.15" y="426.35" width="4.5" height="4.5" fill="#000"/>
<circle cx="333.6" cy="429.6" r="2.9" fill="none" stroke="#000" stroke-width="1.2"/>
<circle cx="366.2" cy="408.2" r="2.9" fill="none" stroke="#000" stroke-width="1.2"/>
<circle cx="398.9" cy="392.8" r="2.9" fill="none" stroke="#000" stroke-width="1.2"/>
<circle cx="431.7" cy="381.7" r="2.9" fill="none" stroke="#000" stroke-width="1.2"/>
<circle cx="464.4" cy="367.7" r="2.9" fill="none" stroke="#000" stroke-width="1.2"/>
<text x="398.90" y="387.70" font-size="13.5" text-anchor="middle" font-weight="bold">*</text>
<text x="431.70" y="369.20" font-size="13.5" text-anchor="middle" font-weight="bold">*</text>
<text x="465.20" y="357.40" font-size="13.5" text-anchor="middle" font-weight="bold">**</text>
<text x="314.00" y="453.30" font-size="9.3" text-anchor="start">n=</text>
<text x="335.60" y="453.30" font-size="9.6" text-anchor="middle">5</text>
<text x="367.90" y="453.30" font-size="9.6" text-anchor="middle">8</text>
<text x="402.70" y="453.30" font-size="9.6" text-anchor="middle">8</text>
<text x="436.00" y="453.30" font-size="9.6" text-anchor="middle">6</text>
<text x="470.50" y="453.30" font-size="9.6" text-anchor="middle">5</text>
<text x="3.20" y="14.60" font-size="17.8" text-anchor="start" font-weight="bold">A</text>
<text x="272.10" y="14.50" font-size="17" text-anchor="start" font-weight="bold">B</text>
<text x="115.50" y="31.90" font-size="13.3" text-anchor="start">NKG2A</text>
<text x="374.80" y="32.00" font-size="13.3" text-anchor="start">KIR</text>
<text x="100.80" y="55.30" font-size="13.3" text-anchor="start">seronegative</text>
<text x="362.20" y="55.70" font-size="13.3" text-anchor="start">seronegative</text>
<text x="92.80" y="193.60" font-size="13.3" text-anchor="start">seropositive</text>
<text x="92.80" y="209.10" font-size="13.3" text-anchor="start">(no CMV reactivation)</text>
<text x="82.20" y="333.30" font-size="13.3" text-anchor="start">seropositive</text>
<text x="82.20" y="348.70" font-size="13.3" text-anchor="start">(CMV reactivation)</text>
<text x="359.60" y="195.40" font-size="13.3" text-anchor="start">seropositive</text>
<text x="359.60" y="210.60" font-size="13.3" text-anchor="start">(no CMV reactivation)</text>
<text x="349.70" y="338.30" font-size="13.3" text-anchor="start">seropositive</text>
<text x="349.70" y="353.80" font-size="13.3" text-anchor="start">(CMV reactivation)</text>
<line x1="189.90" y1="48.40" x2="206.80" y2="48.40" stroke="#000" stroke-width="1.2"/>
<circle cx="198.4" cy="48.4" r="3.8" fill="none" stroke="#000" stroke-width="1.3"/>
<line x1="189.90" y1="63.20" x2="206.80" y2="63.20" stroke="#000" stroke-width="1.2"/>
<rect x="194.6" y="59.5" width="7.6" height="7.4" fill="#000"/>
<text x="214.20" y="52.30" font-size="11.3" text-anchor="start">NKG2A+</text>
<text x="214.20" y="67.00" font-size="11.3" text-anchor="start">NKG2A-</text>
<line x1="469.20" y1="56.20" x2="487.10" y2="56.20" stroke="#000" stroke-width="1.2"/>
<circle cx="477.9" cy="56.2" r="3.9" fill="none" stroke="#000" stroke-width="1.4"/>
<line x1="469.20" y1="71.50" x2="487.10" y2="71.50" stroke="#000" stroke-width="1.2"/>
<rect x="475.0" y="68.6" width="6.3" height="6.0" fill="#000"/>
<text x="494.00" y="59.90" font-size="10.8" text-anchor="start">KIR+</text>
<text x="494.00" y="75.20" font-size="10.8" text-anchor="start">KIR-</text>
<line x1="22.80" y1="65.00" x2="22.80" y2="453.70" stroke="#000" stroke-width="2.0"/>
<polygon points="22.8,56.3 18.6,66.0 27.0,66.0" fill="#000"/>
<line x1="287.00" y1="66.60" x2="287.00" y2="448.30" stroke="#000" stroke-width="2.0"/>
<polygon points="287.0,58.4 282.8,67.6 291.2,67.6" fill="#000"/>
<text transform="translate(15.9,263.3) rotate(-90)" font-size="16" text-anchor="middle">% of NK cells expressing NKG2C</text>
<text transform="translate(273.6,263.3) rotate(-90)" font-size="16" text-anchor="middle">% of NK cells expressing NKG2C</text>
<text transform="translate(74.00,462.6) scale(1.07,1) rotate(-90)" font-size="15.4" text-anchor="end">Day 28</text>
<text transform="translate(104.80,462.6) scale(1.07,1) rotate(-90)" font-size="15.4" text-anchor="end">Day 60</text>
<text transform="translate(135.30,462.6) scale(1.07,1) rotate(-90)" font-size="15.4" text-anchor="end">Day 100</text>
<text transform="translate(165.90,462.6) scale(1.07,1) rotate(-90)" font-size="15.4" text-anchor="end">6 months</text>
<text transform="translate(196.30,462.6) scale(1.07,1) rotate(-90)" font-size="15.4" text-anchor="end">1 year</text>
<text transform="translate(338.90,456.5) scale(1.0,1) rotate(-90)" font-size="16.6" text-anchor="end">Day 28</text>
<text transform="translate(371.50,456.5) scale(1.0,1) rotate(-90)" font-size="16.6" text-anchor="end">Day 60</text>
<text transform="translate(404.20,456.5) scale(1.0,1) rotate(-90)" font-size="16.6" text-anchor="end">Day 100</text>
<text transform="translate(437.00,456.5) scale(1.0,1) rotate(-90)" font-size="16.6" text-anchor="end">6 months</text>
<text transform="translate(469.70,456.5) scale(1.0,1) rotate(-90)" font-size="16.6" text-anchor="end">1 year</text>
</svg>
</body></html>
